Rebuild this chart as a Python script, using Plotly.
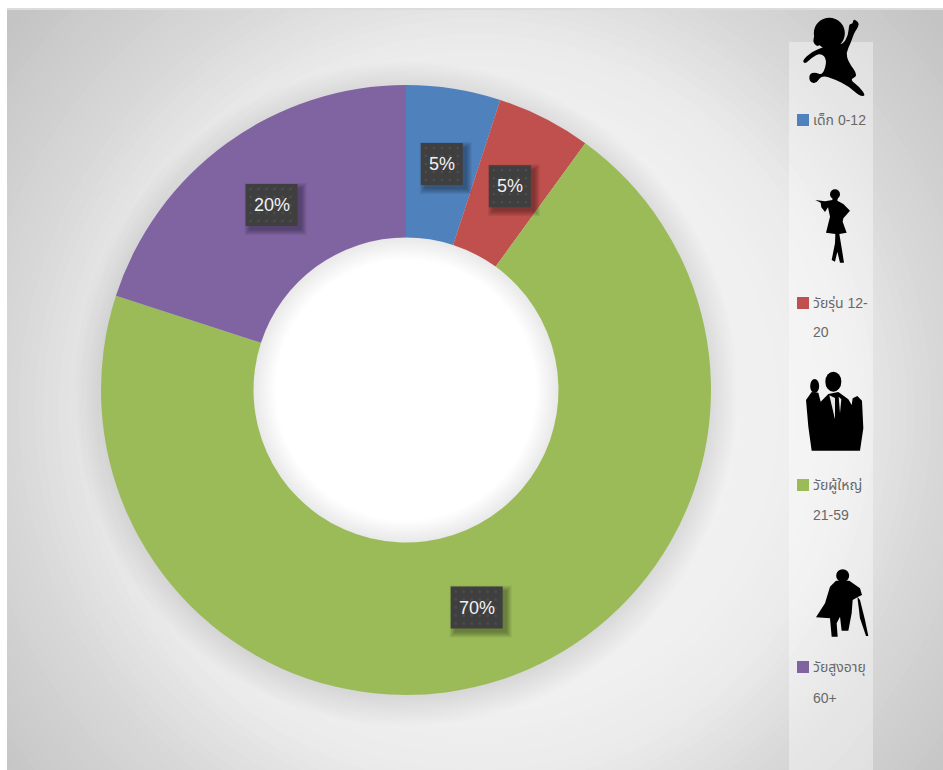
import math
import plotly.graph_objects as go

W, H = 943, 770
labels = ["เด็ก 0-12", "วัยรุ่น 12-20", "วัยผู้ใหญ่ 21-59", "วัยสูงอายุ 60+"]
values = [5, 5, 70, 20]
colors = ["#4f81bd", "#c0504d", "#9bbb59", "#8064a2"]
legend_lines = [["เด็ก 0-12"], ["วัยรุ่น 12-", "20"], ["วัยผู้ใหญ่", "21-59"], ["วัยสูงอายุ", "60+"]]
legend_y = [120, 303, 485, 667]
legend_line2_y = [None, 332, 515, 698]

CX, CY, R = 406, 390, 305
HOLE = 0.5


def fx(p):
    return p / W


def fy(p):
    return 1 - p / H


shapes = []


def rect(x0, y0, x1, y1, color, layer="below"):
    shapes.append(dict(type="rect", xref="paper", yref="paper", x0=fx(x0), x1=fx(x1), y0=fy(y1), y1=fy(y0),
                       fillcolor=color, line_width=0, layer=layer))


def circle(cx, cy, r, color, layer="below", ry=None):
    ry = ry or r
    shapes.append(dict(type="circle", xref="paper", yref="paper", x0=fx(cx - r), x1=fx(cx + r),
                       y0=fy(cy + ry), y1=fy(cy - ry), fillcolor=color, line_width=0, layer=layer))


def poly(points, ox, oy, color="#000000", scale=1 / 3, smooth=True):
    """Outline from zoomed-picture points; smooth=True rounds the corners with quadratic curves."""
    P = [(fx(ox + a * scale), fy(oy + b * scale)) for a, b in points]
    n = len(P)
    if smooth:
        m0 = ((P[-1][0] + P[0][0]) / 2, (P[-1][1] + P[0][1]) / 2)
        d = f"M{m0[0]:.5f},{m0[1]:.5f} "
        for i in range(n):
            nx = P[(i + 1) % n]
            m = ((P[i][0] + nx[0]) / 2, (P[i][1] + nx[1]) / 2)
            d += f"Q{P[i][0]:.5f},{P[i][1]:.5f} {m[0]:.5f},{m[1]:.5f} "
    else:
        d = "".join(("M" if i == 0 else "L") + f"{p[0]:.5f},{p[1]:.5f} " for i, p in enumerate(P))
    shapes.append(dict(type="path", xref="paper", yref="paper", path=d + "Z", fillcolor=color,
                       line_width=0, layer="above"))


# page background and radial gradient
rect(0, 0, W, H, "#c4c4c4")
stops = [(0, 245), (300, 240), (370, 235), (465, 216), (600, 197), (680, 190)]


def grey_at(r):
    for (r0, g0), (r1, g1) in zip(stops, stops[1:]):
        if r <= r1:
            return g0 + (g1 - g0) * (r - r0) / (r1 - r0)
    return stops[-1][1]


for r in range(680, 0, -8):
    g = round(grey_at(r))
    circle(475, 410, r, f"rgb({g},{g},{g})")

# soft shadow behind the ring
for i in range(12):
    circle(CX, CY + 4, R + 27 - i * 2.5, "rgba(0,0,0,0.009)")
# soft inner edge of the hole
for i in range(24):
    g = 232 + i
    circle(CX, CY, R * HOLE + 1 - i, f"rgb({g},{g},{g})")

# frame outside the chart area
rect(0, 0, W, 8, "#ffffff")
rect(0, 8, W, 10, "#dcdcdc")
rect(0, 0, 7, H, "#ffffff")

# legend panel and swatches
rect(789, 42, 873, H, "rgba(255,255,255,0.38)")
for c, y in zip(colors, legend_y):
    rect(797, y - 6, 809, y + 6, c)

# silhouettes
# child
circle(780 + 148 / 3, 100 / 3, 15.5, "#000000", layer="above")
poly([(104, 100), (98, 130), (118, 142), (128, 115)], 780, 0)
poly([(188, 135), (205, 105), (207, 72), (218, 72), (220, 58), (230, 62), (238, 72), (230, 88), (222, 100), (212, 130),
      (198, 158), (205, 185), (235, 228), (208, 238), (240, 262), (258, 288), (238, 288), (205, 258), (165, 238),
      (125, 225), (108, 252), (88, 245), (88, 222), (105, 216), (128, 226), (142, 180), (122, 158), (92, 175),
      (76, 192), (66, 182), (95, 155), (130, 142), (155, 130)], 780, 0)
# young woman
circle(780 + 165 / 3, 583 / 3, 5, "#000000", layer="above")
poly([(158, 592), (174, 592), (172, 602), (190, 612), (210, 632), (190, 655), (188, 665), (200, 698), (178, 702),
      (186, 750), (192, 788), (180, 788), (172, 755), (165, 785), (155, 780), (165, 730), (166, 702), (138, 698),
      (150, 650), (144, 622), (135, 636), (124, 622), (122, 608), (106, 600), (135, 604), (157, 600)], 780, 0,
     smooth=False)
# adults
circle(780 + 160 / 3, 370 + 35 / 3, 8, "#000000", layer="above", ry=10)
circle(780 + 104 / 3, 370 + 48 / 3, 4.5, "#000000", layer="above", ry=7)
poly([(95, 66), (115, 68), (122, 95), (145, 72), (175, 66), (205, 88), (215, 105), (218, 85), (232, 78), (246, 92),
      (250, 175), (240, 242), (95, 242), (85, 170), (78, 90)], 780, 370, smooth=False)
poly([(148, 76), (165, 148), (165, 84)], 780, 370, "#e6e6e6", smooth=False)
poly([(176, 80), (180, 130), (184, 88)], 780, 370, "#e6e6e6", smooth=False)
# elder
circle(780 + 188 / 3, 370 + 617 / 3, 6.5, "#000000", layer="above")
poly([(168, 632), (208, 632), (240, 655), (246, 675), (235, 680), (218, 690), (215, 730), (205, 782), (185, 782),
      (180, 740), (170, 760), (173, 800), (155, 800), (150, 745), (108, 742), (135, 700), (150, 650)], 780, 370,
     smooth=False)
poly([(232, 680), (240, 690), (255, 750), (265, 798), (258, 798), (240, 745)], 780, 370, smooth=False)

# data label boxes, placed from the slice angles
annotations = []
total = sum(values)
cum = 0
mid_r = R * (1 + HOLE) / 2
BH = 21
for v in values:
    ang = (cum + v / 2) / total * 2 * math.pi
    cum += v
    bx = CX + mid_r * math.sin(ang)
    by = CY - mid_r * math.cos(ang)
    BW = 26 if v >= 10 else 21
    for k in range(6, 0, -1):
        rect(bx - BW + 5 - k, by - BH + 5 - k, bx + BW + 3 + k, by + BH + 3 + k,
             "rgba(0,0,0,0.06)", layer="above")
    rect(bx - BW, by - BH, bx + BW, by + BH, "#3f3f3f", layer="above")
    d = ""
    for i in range(int(2 * BW / 8)):
        for j in range(5):
            x = bx - BW + 5 + i * 8
            y = by - BH + 5 + j * 8
            d += f"M{fx(x - 1.2):.5f},{fy(y - 1.2):.5f} L{fx(x + 1.2):.5f},{fy(y - 1.2):.5f} " \
                 f"L{fx(x + 1.2):.5f},{fy(y + 1.2):.5f} L{fx(x - 1.2):.5f},{fy(y + 1.2):.5f} Z "
    shapes.append(dict(type="path", xref="paper", yref="paper", path=d, fillcolor="#4c4c4c", line_width=0,
                       layer="above"))
    annotations.append(dict(x=fx(bx), y=fy(by), xref="paper", yref="paper", text=f"{v}%", showarrow=False,
                            xanchor="center", yanchor="middle",
                            font=dict(family="Liberation Sans, Arial, sans-serif", size=18, color="#f2f2f2")))

# legend text
thai = "Liberation Sans, Noto Sans Thai, Noto Sans, DejaVu Sans, sans-serif"
for lines, y1, y2 in zip(legend_lines, legend_y, legend_line2_y):
    annotations.append(dict(x=fx(812), y=fy(y1), xref="paper", yref="paper", text=lines[0], showarrow=False,
                            xanchor="left", yanchor="middle", xshift=-1,
                            font=dict(family=thai, size=14, color="#686868")))
    if y2:
        annotations.append(dict(x=fx(812), y=fy(y2), xref="paper", yref="paper", text=lines[1], showarrow=False,
                                xanchor="left", yanchor="middle", xshift=-1,
                                font=dict(family=thai, size=14, color="#686868")))

fig = go.Figure(go.Pie(labels=labels, values=values, hole=HOLE, sort=False, direction="clockwise", rotation=0,
                       textinfo="none", hoverinfo="label+percent",
                       marker=dict(colors=colors, line=dict(width=0)),
                       domain=dict(x=[fx(CX - R), fx(CX + R)], y=[fy(CY + R), fy(CY - R)])))
fig.update_layout(width=W, height=H, margin=dict(l=0, r=0, t=0, b=0), showlegend=False, autosize=False,
                  paper_bgcolor="#ffffff", shapes=shapes, annotations=annotations)
fig.write_html("out.html", post_script="document.body.style.margin='0';", config={"displayModeBar": False})
